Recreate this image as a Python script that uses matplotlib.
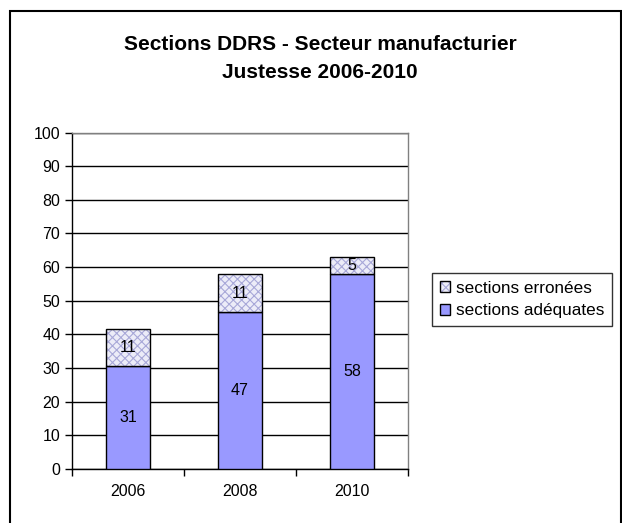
import matplotlib
matplotlib.use("Agg")
import matplotlib.pyplot as plt
from matplotlib.patches import Rectangle, Patch
from matplotlib.legend_handler import HandlerTuple
import numpy as np

plt.rcParams['font.family'] = ['Liberation Sans', 'DejaVu Sans']
plt.rcParams['hatch.linewidth'] = 0.8

years = ['2006', '2008', '2010']
adequates = [30.6, 46.6, 57.9]
erronees = [11, 11.3, 5]
yticks = list(range(0, 101, 10))

W, H = 622, 523
fig = plt.figure(figsize=(W/100, H/100), dpi=100)
fig.patches.append(Rectangle((9.5/W, -5/H), 611/W, (H - 10.5 + 5)/H, transform=fig.transFigure,
                             fill=False, edgecolor='black', linewidth=1.5))
ax = fig.add_axes([72/W, 1-469/H, 336/W, 336.5/H])
x = np.arange(len(years))
b1 = ax.bar(x, adequates, width=0.4, color='#9999ff', edgecolor='black', linewidth=1,
            label='sections adéquates', zorder=3)
# hatched fill (light hatch colour), then a black outline on top
ax.bar(x, erronees, width=0.4, bottom=adequates, color='#ececf8', edgecolor='#a8a8d8',
       linewidth=0, hatch='xxxx', zorder=3)
b2 = ax.bar(x, erronees, width=0.4, bottom=adequates, fill=False, edgecolor='black',
            linewidth=1, zorder=4)
ax.bar_label(b1, labels=[f'{v:.0f}' for v in adequates], label_type='center', fontsize=11.5)
ax.bar_label(b2, labels=[f'{v:.0f}' for v in erronees], label_type='center', fontsize=11.5)

ax.set_xlim(-0.5, 2.5)
ax.set_ylim(0, 100)
ax.set_yticks(yticks)
ax.set_xticks(x)
ax.set_xticklabels(years)
ax.tick_params(axis='both', labelsize=11.5, length=5, direction='out', width=1)
ax.set_xticks([-0.5, 0.5, 1.5, 2.5], minor=True)
ax.tick_params(axis='x', which='major', length=0, pad=11)
ax.tick_params(axis='x', which='minor', length=5, width=1)
ax.yaxis.grid(True, color='black', linewidth=1, zorder=0)
ax.set_axisbelow(True)
ax.spines['top'].set_color('#808080')
ax.spines['right'].set_color('#808080')
ax.spines['left'].set_color('black')
ax.spines['bottom'].set_color('black')
for s in ax.spines.values():
    s.set_linewidth(1)

fig.text(320/W, 1-45/H, 'Sections DDRS - Secteur manufacturier',
         ha='center', va='center', fontsize=15, fontweight='bold')
fig.text(320/W, 1-73/H, 'Justesse 2006-2010', ha='center', va='center',
         fontsize=15, fontweight='bold')

h_err = (Patch(facecolor='#ececf8', edgecolor='#a8a8d8', hatch='xxxx', linewidth=0),
         Patch(fill=False, edgecolor='black', linewidth=1))
h_ade = Patch(facecolor='#9999ff', edgecolor='black', linewidth=1)
leg = fig.legend([h_err, h_ade], ['sections erronées', 'sections adéquates'],
                 handler_map={tuple: HandlerTuple(ndivide=1, pad=0)},
                 loc='upper left', bbox_to_anchor=(432/W, 1-273/H), fontsize=12.3,
                 frameon=True, fancybox=False, edgecolor='black', handlelength=0.6,
                 handleheight=0.6, handletextpad=0.35, borderpad=0.45, labelspacing=0.45,
                 borderaxespad=0)
leg.get_frame().set_linewidth(1)

fig.savefig('out.png', dpi=100)
